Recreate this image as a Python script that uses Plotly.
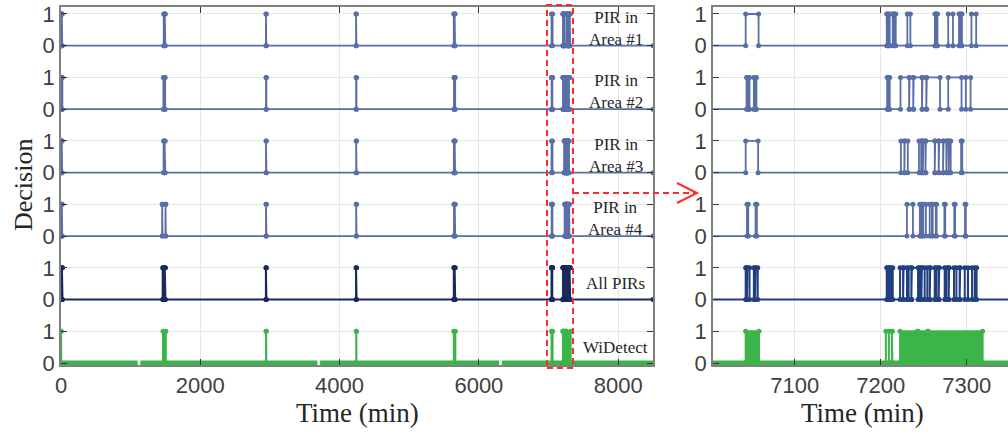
import plotly.graph_objects as go

W, H = 1008, 433

# ---------------- data (minutes) ----------------
T_START, T_END = 0, 8500

pir1_on = [2, 12, 1475, 1490, 2942, 4236, 5640, 5652, 7043,
           7207, 7209.5, 7214, 7216.5, 7231, 7263, 7265, 7278.5, 7291, 7293.5, 7305.5]
pir1_off = [8, 18, 1482, 1498, 2948, 4242, 5646, 5658, 7058,
            7208, 7210.5, 7215, 7217.5, 7234.5, 7264, 7266, 7284, 7292, 7294.5, 7311]

pir2_on = [5, 14, 1470, 1486, 2943, 4237, 5642, 5654, 7044, 7046.5, 7052.5, 7054.5,
           7207.5, 7209.5, 7223, 7233.6, 7238.4, 7248.6, 7253.6, 7278.5, 7299]
pir2_off = [10, 20, 1478, 1496, 2949, 4243, 5648, 5660, 7045.5, 7047.5, 7053.5, 7055.5,
            7208.5, 7210.5, 7233, 7237.8, 7248, 7253, 7269, 7294, 7304.5]

pir3_on = [1, 11, 1473, 1488, 2943, 4238, 5641, 5653, 7043,
           7223.5, 7228, 7244.5, 7247.6, 7249.6, 7252.6, 7263.4, 7268, 7273.1, 7276.9, 7279.6, 7293.5]
pir3_off = [7, 17, 1480, 1497, 2949, 4244, 5647, 5659, 7057.5,
            7227.5, 7231.5, 7247, 7249, 7252, 7262.8, 7267.4, 7272.5, 7276.3, 7279, 7281.4, 7294.8]

pir4_on = [1, 12, 1452, 1500, 2943, 4238, 5642, 5654, 7044.5, 7054.5,
           7230.5, 7245.5, 7248.5, 7252.5, 7259.5, 7264, 7274, 7285.5, 7298]
pir4_off = [7, 18, 1458, 1506, 2949, 4244, 5648, 5660, 7046, 7056,
            7237.5, 7246.5, 7249.5, 7257, 7260.5, 7265, 7275, 7286.5, 7299]

all_on = [0, 13, 1460, 1475, 1490, 2942, 4236, 5640, 5652, 7043, 7045, 7052.5, 7054.6,
          7207, 7209.5, 7212.5, 7222.5, 7226.6, 7232.5, 7236.2, 7245.3, 7247.9, 7254.2,
          7257.6, 7264.7, 7268, 7276.3, 7279.6, 7288, 7292.4, 7301.5, 7309.3]
all_off = [10, 22, 1470, 1485, 1500, 2949, 4244, 5648, 5660, 7044.5, 7047.5, 7054, 7057,
           7208, 7210.5, 7214, 7226, 7230.6, 7235.6, 7243.4, 7247.3, 7251.1, 7257,
           7262.8, 7267.4, 7274.4, 7279, 7285.2, 7291.8, 7297.7, 7306.2, 7311.5]

# WiDetect: recorded stretches (baseline), single pulses and dense toggling blocks
wd_rec_start = [0, 1140, 3720, 6330]
wd_rec_end = [1100, 3680, 6290, 8500]
wd_pulse_on = [0, 2944, 4239, 7206, 7213]
wd_pulse_off = [4, 2948, 4243, 7209.5, 7213.6]
wd_block_on = [1465, 5640, 7043, 7222.5, 7243.5, 7255.5]
wd_block_off = [1505, 5662, 7058.5, 7242.5, 7254.5, 7318.5]

row_labels = ["PIR in<br>Area #1", "PIR in<br>Area #2", "PIR in<br>Area #3",
              "PIR in<br>Area #4", "All PIRs", "WiDetect"]
row_base = [10, 8, 6, 4, 2, 0]

left_ticks = [0, 2000, 4000, 6000, 8000]
right_ticks = [7100, 7200, 7300]

# ---------------- styles ----------------
BLUE = "#5a6ea6"
NAVY_L = "#18295c"
NAVY_R = "#213f80"
GREEN = "#3bb54a"
RED = "#ff2a2a"
TICKFONT = dict(family="Liberation Sans, Arial, sans-serif", size=22, color="#404040")
SERIF = "Liberation Serif"


def step_xy(on, off, base):
    xs, ys = [T_START], [base]
    for a, b in zip(on, off):
        xs += [a, a, b, b]
        ys += [base, base + 1, base + 1, base]
    xs.append(T_END)
    ys.append(base)
    return xs, ys


fig = go.Figure()

pir_rows = [(pir1_on, pir1_off, row_base[0]), (pir2_on, pir2_off, row_base[1]),
            (pir3_on, pir3_off, row_base[2]), (pir4_on, pir4_off, row_base[3])]

for xa, ya, navy in (("x", "y", NAVY_L), ("x2", "y2", NAVY_R)):
    for on, off, base in pir_rows:
        xs, ys = step_xy(on, off, base)
        fig.add_trace(go.Scatter(x=xs, y=ys, mode="lines+markers", xaxis=xa, yaxis=ya,
                                 line=dict(color=BLUE, width=1.8),
                                 marker=dict(color=BLUE, size=5), showlegend=False,
                                 hoverinfo="skip"))
    xs, ys = step_xy(all_on, all_off, row_base[4])
    fig.add_trace(go.Scatter(x=xs, y=ys, mode="lines+markers", xaxis=xa, yaxis=ya,
                             line=dict(color=navy, width=2),
                             marker=dict(color=navy, size=5), showlegend=False,
                             hoverinfo="skip"))
    # WiDetect baseline
    bx, by = [], []
    for s, e in zip(wd_rec_start, wd_rec_end):
        bx += [s, e, None]
        by += [0, 0, None]
    fig.add_trace(go.Scatter(x=bx, y=by, mode="lines", xaxis=xa, yaxis=ya,
                             line=dict(color=GREEN, width=5), showlegend=False,
                             hoverinfo="skip"))
    # pulses
    px, py = [], []
    for a, b in zip(wd_pulse_on, wd_pulse_off):
        px += [a, a, b, b, None]
        py += [0, 1, 1, 0, None]
    fig.add_trace(go.Scatter(x=px, y=py, mode="lines+markers", xaxis=xa, yaxis=ya,
                             line=dict(color=GREEN, width=2),
                             marker=dict(color=GREEN, size=5), showlegend=False,
                             hoverinfo="skip"))
    # dense blocks
    fx, fy = [], []
    for a, b in zip(wd_block_on, wd_block_off):
        fx += [a, a, b, b, a, None]
        fy += [0, 1, 1, 0, 0, None]
    fig.add_trace(go.Scatter(x=fx, y=fy, mode="lines+markers", fill="toself",
                             fillcolor=GREEN, xaxis=xa, yaxis=ya,
                             line=dict(color=GREEN, width=2),
                             marker=dict(color=GREEN, size=5), showlegend=False,
                             hoverinfo="skip"))

yvals = list(range(0, 12))
ytext = [str(v % 2) for v in yvals]

common_x = dict(ticks="inside", ticklen=6, tickcolor="#333333", showline=True,
                linecolor="#808080", linewidth=1.5, showgrid=True, gridcolor="#e6e6e6",
                zeroline=False, tickfont=TICKFONT, automargin=False)
common_y = dict(range=[-0.063, 11.22], tickvals=yvals, ticktext=ytext,
                ticks="inside", ticklen=6, tickcolor="#333333", showline=True,
                linecolor="#808080", linewidth=1.5, showgrid=True, gridcolor="#e6e6e6",
                zeroline=False, tickfont=TICKFONT, automargin=False,
                domain=[1 - 365 / H, 1 - 7 / H])

fig.update_layout(
    template="none",
    width=W, height=H,
    margin=dict(l=0, r=0, t=0, b=0),
    paper_bgcolor="white", plot_bgcolor="white",
    xaxis=dict(domain=[61 / W, 653 / W], range=[T_START, T_END], tickvals=left_ticks,
               mirror="ticks", anchor="y", **common_x),
    yaxis=dict(anchor="x", mirror="ticks", **common_y),
    xaxis2=dict(domain=[713 / W, 1.0], range=[7005, 7348], tickvals=right_ticks,
                mirror="ticks", anchor="y2", **common_x),
    yaxis2=dict(anchor="x2", mirror=False, **common_y),
)

annotations = []
for lab, base in zip(row_labels, row_base):
    off = 0.55 if "<br>" in lab else 0.5
    annotations.append(dict(x=7965, y=base + off, xref="x", yref="y", text=lab,
                            showarrow=False, font=dict(family=SERIF, size=17, color="#262626"),
                            xanchor="center", yanchor="middle"))
annotations += [
    dict(x=357 / W, y=1 - 413 / H, xref="paper", yref="paper", text="Time (min)",
         showarrow=False, font=dict(family=SERIF, size=27, color="#262626"),
         xanchor="center", yanchor="middle"),
    dict(x=862 / W, y=1 - 413 / H, xref="paper", yref="paper", text="Time (min)",
         showarrow=False, font=dict(family=SERIF, size=27, color="#262626"),
         xanchor="center", yanchor="middle"),
    dict(x=23 / W, y=1 - 185 / H, xref="paper", yref="paper", text="Decision",
         textangle=-90, showarrow=False, font=dict(family=SERIF, size=26, color="#262626"),
         xanchor="center", yanchor="middle"),
]
fig.update_layout(annotations=annotations)


def P(x, y):
    return x / W, 1 - y / H


rx0, ry0 = P(547, 368)
rx1, ry1 = P(573, 5)
ax0, ay = P(573, 193)
ax1, _ = P(697, 193)
h1x, h1y = P(677, 183)
h2x, h2y = P(677, 203)
tipx, tipy = P(697, 193)
fig.update_layout(shapes=[
    dict(type="rect", xref="paper", yref="paper", x0=rx0, y0=ry0, x1=rx1, y1=ry1,
         line=dict(color=RED, width=2, dash="6px,4px")),
    dict(type="line", xref="paper", yref="paper", x0=ax0, y0=ay, x1=ax1, y1=ay,
         line=dict(color=RED, width=2, dash="6px,4px")),
    dict(type="path", xref="paper", yref="paper",
         path=f"M {h1x},{h1y} L {tipx},{tipy} L {h2x},{h2y}",
         line=dict(color=RED, width=2)),
])

fig.write_html("out.html")
